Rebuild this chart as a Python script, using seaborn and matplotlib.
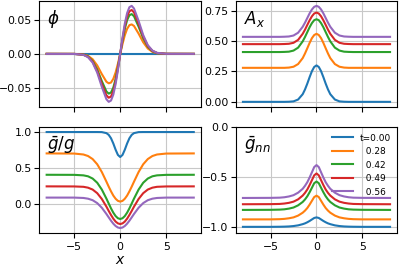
import matplotlib
matplotlib.use("Agg")
import matplotlib.pyplot as plt
import seaborn as sns
import pandas as pd

# ---- data ----
x = [-8, -5, -4, -3.5, -3, -2.5, -2, -1.5, -1.25, -1, -0.75, -0.5, -0.25, 0,
     0.25, 0.5, 0.75, 1, 1.25, 1.5, 2, 2.5, 3, 3.5, 4, 5, 8]

t_labels = ["t=0.00", "  0.28", "  0.42", "  0.49", "  0.56"]
colors = ["#1f77b4", "#ff7f0e", "#2ca02c", "#d62728", "#9467bd"]

phi = [
    [0] * 27,
    [0, 0, -.0009, -.0029, -.0078, -.0169, -.0295, -.0406, -.0429, -.0418, -.0364, -.0271, -.0144,
     0, .0144, .0271, .0364, .0418, .0429, .0406, .0295, .0169, .0078, .0029, .0009, 0, 0],
    [0, -.0001, -.0012, -.0039, -.0105, -.0227, -.0397, -.0548, -.0579, -.0563, -.0491, -.0365, -.0195,
     0, .0195, .0365, .0491, .0563, .0579, .0548, .0397, .0227, .0105, .0039, .0012, .0001, 0],
    [0, -.0001, -.0013, -.0044, -.0116, -.0251, -.0438, -.0604, -.0639, -.0621, -.0542, -.0403, -.0215,
     0, .0215, .0403, .0542, .0621, .0639, .0604, .0438, .0251, .0116, .0044, .0013, .0001, 0],
    [0, -.0001, -.0015, -.0048, -.0127, -.0274, -.0480, -.0661, -.0699, -.0680, -.0593, -.0441, -.0235,
     0, .0235, .0441, .0593, .0680, .0699, .0661, .0480, .0274, .0127, .0048, .0015, .0001, 0],
]

A_x = [
    [0, 0, 0, 0, .001, .004, .019, .063, .102, .150, .203, .252, .287, .300,
     .287, .252, .203, .150, .102, .063, .019, .004, .001, 0, 0, 0, 0],
    [.28, .28, .28, .28, .282, .289, .311, .360, .398, .441, .485, .524, .550, .560,
     .550, .524, .485, .441, .398, .360, .311, .289, .282, .28, .28, .28, .28],
    [.41, .41, .41, .411, .413, .422, .446, .498, .534, .574, .614, .648, .672, .680,
     .672, .648, .614, .574, .534, .498, .446, .422, .413, .411, .41, .41, .41],
    [.475, .475, .475, .476, .478, .486, .510, .560, .594, .633, .671, .704, .727, .735,
     .727, .704, .671, .633, .594, .560, .510, .486, .478, .476, .475, .475, .475],
    [.535, .535, .535, .536, .538, .546, .569, .618, .652, .690, .728, .760, .782, .790,
     .782, .760, .728, .690, .652, .618, .569, .546, .538, .536, .535, .535, .535],
]

g_ratio = [
    [1, 1, 1, 1, 1, 1, .999, .985, .961, .914, .842, .756, .684, .655,
     .684, .756, .842, .914, .961, .985, .999, 1, 1, 1, 1, 1, 1],
    [.705, .703, .690, .669, .627, .555, .448, .315, .246, .181, .123, .079, .050, .040,
     .050, .079, .123, .181, .246, .315, .448, .555, .627, .669, .690, .703, .705],
    [.41, .409, .402, .389, .358, .300, .206, .081, .013, -.054, -.113, -.160, -.190, -.200,
     -.190, -.160, -.113, -.054, .013, .081, .206, .300, .358, .389, .402, .409, .41],
    [.25, .249, .244, .232, .206, .156, .076, -.030, -.089, -.145, -.196, -.236, -.261, -.270,
     -.261, -.236, -.196, -.145, -.089, -.030, .076, .156, .206, .232, .244, .249, .25],
    [.095, .095, .090, .080, .059, .019, -.045, -.131, -.178, -.224, -.265, -.297, -.318, -.325,
     -.318, -.297, -.265, -.224, -.178, -.131, -.045, .019, .059, .080, .090, .095, .095],
]

g_nn = [
    [-1, -1, -.999, -.998, -.996, -.992, -.985, -.973, -.965, -.954, -.941, -.926, -.911, -.905,
     -.911, -.926, -.941, -.954, -.965, -.973, -.985, -.992, -.996, -.998, -.999, -1, -1],
    [-.925, -.925, -.923, -.920, -.914, -.905, -.887, -.858, -.837, -.811, -.777, -.739, -.701, -.687,
     -.701, -.739, -.777, -.811, -.837, -.858, -.887, -.905, -.914, -.920, -.923, -.925, -.925],
    [-.83, -.829, -.827, -.824, -.817, -.806, -.784, -.750, -.725, -.693, -.653, -.608, -.562, -.545,
     -.562, -.608, -.653, -.693, -.725, -.750, -.784, -.806, -.817, -.824, -.827, -.829, -.83],
    [-.773, -.772, -.770, -.766, -.759, -.747, -.724, -.686, -.659, -.625, -.581, -.532, -.483, -.464,
     -.483, -.532, -.581, -.625, -.659, -.686, -.724, -.747, -.759, -.766, -.770, -.772, -.773],
    [-.71, -.709, -.707, -.703, -.695, -.682, -.657, -.618, -.588, -.552, -.505, -.453, -.400, -.38,
     -.400, -.453, -.505, -.552, -.588, -.618, -.657, -.682, -.695, -.703, -.707, -.709, -.71],
]

panel_labels = [r"$\phi$", r"$A_x$", r"$\bar{g}/g$", r"$\bar{g}_{nn}$"]
yticks_list = [[-0.05, 0.0, 0.05], [0.0, 0.25, 0.5, 0.75], [0.0, 0.5, 1.0], [-1.0, -0.5, 0.0]]
xticks = [-5, 0, 5]

# ---- long table ----
rows = []
for name, series in [("phi", phi), ("A_x", A_x), ("g_ratio", g_ratio), ("g_nn", g_nn)]:
    for lab, vals in zip(t_labels, series):
        for xi, yi in zip(x, vals):
            rows.append({"panel": name, "t": lab, "x": xi, "y": yi})
df = pd.DataFrame(rows)

plt.rcParams["font.family"] = ["DejaVu Sans"]
fig, axes = plt.subplots(2, 2, figsize=(3.99, 2.67), dpi=100, sharex=True)
fig.subplots_adjust(left=0.0985, right=0.996, top=0.996, bottom=0.128,
                    wspace=0.213, hspace=0.195)

names = ["phi", "A_x", "g_ratio", "g_nn"]
for i, (ax, name) in enumerate(zip(axes.flat, names)):
    sub = df[df["panel"] == name]
    sns.lineplot(data=sub, x="x", y="y", hue="t", hue_order=t_labels,
                 palette=colors, ax=ax, legend=(name == "g_nn"),
                 errorbar=None, linewidth=1.5, sort=False)
    ax.grid(True, color="#c8c8c8", linewidth=0.8)
    ax.set_axisbelow(True)
    ax.set_xlabel("")
    ax.set_ylabel("")
    ax.set_yticks(yticks_list[i])
    ax.set_xticks(xticks)
    ax.tick_params(axis="both", labelsize=7.8)
    ax.tick_params(axis="y", pad=1.8)
    ax.tick_params(axis="x", pad=3.0)
    ax.text(0.05, 0.83, panel_labels[i], transform=ax.transAxes,
            ha="left", va="center", fontsize=12)

axes[1, 1].set_ylim(-1.06, 0.0)
axes[1, 0].set_xlabel(r"$x$", fontsize=10, labelpad=0.5)

sns.move_legend(axes[1, 1], "upper right", frameon=False, fontsize=6.5,
                title=None, handlelength=2.3, labelspacing=0.5,
                borderaxespad=0.3, handletextpad=0.8)

fig.savefig("out.png", dpi=100)
